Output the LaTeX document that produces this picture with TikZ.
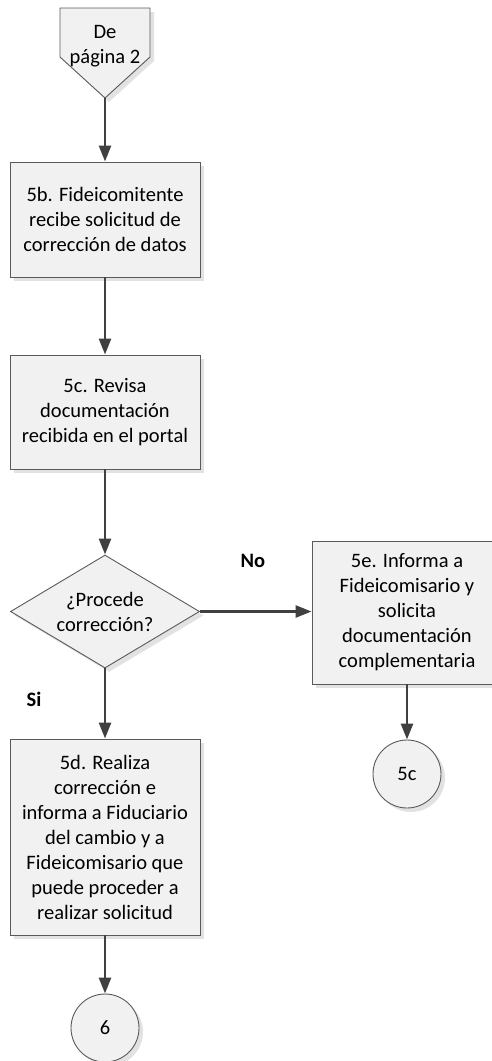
\documentclass[tikz,border=0pt]{standalone}
\usepackage{fontspec}
\setmainfont{Carlito}
\usetikzlibrary{arrows.meta,shapes.geometric,shadows}
\definecolor{linec}{HTML}{404040}
\definecolor{borderc}{HTML}{5A5A5A}
\definecolor{fillc}{HTML}{F1F1F1}
\definecolor{shadowc}{HTML}{E2E2E2}
\tikzset{
  shad/.style={drop shadow={shadow xshift=4pt, shadow yshift=-4pt, fill=shadowc, opacity=1}},
  procbox/.style={draw=borderc, line width=0.9pt, fill=fillc, shad, rectangle, minimum width=190pt, align=center, inner sep=2pt, font=\fs},
  decbox/.style={draw=borderc, line width=0.9pt, fill=fillc, shad, diamond, aspect=1.67, inner sep=0pt, minimum width=189pt, minimum height=113pt, align=center, font=\fs},
  conn/.style={draw=borderc, line width=0.9pt, fill=fillc, shad, circle, minimum size=68pt, inner sep=0pt, font=\fs},
  flow/.style={draw=linec, line width=2.6pt, -{Triangle[width=12pt,length=16pt]}},
  lbl/.style={font=\fs\bfseries, inner sep=0pt}
}
\newcommand{\fs}{\fontsize{20.5pt}{25pt}\selectfont}
\begin{document}
\begin{tikzpicture}[x=1pt,y=-1pt]
\useasboundingbox (0,0) rectangle (491,1061);
% off-page connector
\fill[shadowc] (64,12) -- (154,12) -- (154,61) -- (109,102) -- (64,61) -- cycle;
\draw[borderc, line width=0.9pt, fill=fillc] (60,8) -- (150,8) -- (150,57) -- (105,98) -- (60,57) -- cycle;
\node[align=center, font=\fs, inner sep=0pt] (op) at (105,46) {De\\página 2};
\coordinate (optip) at (105,98);
\node[procbox, minimum height=115pt] (b5) at (105,219.5) {5b. Fideicomitente\\recibe solicitud de\\corrección de datos};
\node[procbox, minimum height=114pt] (c5) at (105,412) {5c. Revisa\\documentación\\recibida en el portal};
\node[decbox] (dec) at (105,611.5) {¿Procede\\corrección?};
\node[procbox, minimum height=143pt] (e5) at (407,612.5) {5e. Informa a\\Fideicomisario y\\solicita\\documentación\\complementaria};
\node[conn] (c5c) at (407,774) {5c};
\node[procbox, minimum height=196pt] (d5) at (105,837) {5d. Realiza\\corrección e\\informa a Fiduciario\\del cambio y a\\Fideicomisario que\\puede proceder a\\realizar solicitud};
\node[conn] (c6) at (105,1028) {6};
\node[lbl] (no) at (253,561) {No};
\node[lbl] (si) at (34,699) {Si};
\draw[flow] (optip) -- (b5.north);
\draw[flow] (b5) -- (c5);
\draw[flow] (c5) -- (dec);
\draw[flow] (dec.east) -- (e5.west |- dec.east);
\draw[flow] (dec) -- (d5);
\draw[flow] (e5.south) -- (c5c);
\draw[flow] (d5) -- (c6);
\end{tikzpicture}
\end{document}
